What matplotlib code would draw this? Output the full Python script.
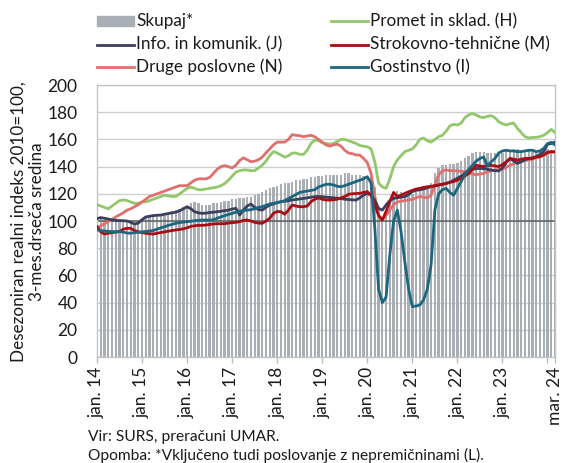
import matplotlib
matplotlib.use("Agg")
import matplotlib.pyplot as plt
from matplotlib.lines import Line2D
from matplotlib.patches import Rectangle
import numpy as np

plt.rcParams["font.family"] = ["Lato", "DejaVu Sans"]

# mesečni podatki jan. 2014 - mar. 2024 (3-mes. drseča sredina)
skupaj = [
    102, 102, 101, 101, 101, 100, 100, 100, 99, 99, 98, 99,
    101, 102, 103, 104, 105, 105, 106, 106, 107, 108, 109, 110,
    111, 113, 114, 113, 112, 112, 112, 113, 113, 114, 115, 115,
    116, 116, 117, 117, 118, 118, 119, 120, 121, 123, 124, 125,
    126, 127, 128, 128, 129, 130, 130, 131, 131, 132, 132, 133,
    133, 134, 134, 134, 134, 134, 135, 135, 134, 134, 134, 133,
    133, 132, 125, 108, 102, 108, 116, 121, 122, 121, 120, 120,
    120, 121, 122, 123, 125, 128, 135, 139, 141, 141, 142, 142,
    143, 144, 146, 148, 150, 151, 151, 151, 150, 150, 150, 149,
    150, 151, 152, 153, 153, 152, 152, 152, 151, 151, 152, 152,
    153, 152, 152,
]
promet = [
    112, 111, 110, 109, 111, 113, 115, 115.5, 115, 114, 113, 113,
    114, 114, 115, 116, 117, 118, 119, 118.5, 118, 118, 120, 122,
    124, 125, 124, 123, 123, 123.5, 124, 124.5, 125, 126, 127.5, 130,
    133, 136, 137, 137.5, 137.5, 137, 137, 139, 141, 144, 148, 151,
    150, 148.5, 147, 148, 150, 150, 149, 149, 152, 157, 159.5, 159,
    157.5, 157, 156.6, 157, 158.5, 160, 160, 159, 158, 157, 155.5, 155,
    154.6, 153, 143.6, 128, 125, 124, 131, 140, 145, 148, 151, 152,
    153, 156, 160, 161, 159, 158, 160, 162, 163, 166, 170, 171,
    170.6, 172, 176, 178, 179, 178, 176.5, 176, 177, 177.5, 176, 173,
    171.5, 170.6, 171.5, 172, 168, 165, 162, 161, 161.5, 161.5, 162, 163,
    165, 167.4, 165,
]
info = [
    101.7, 102.5, 102, 101.5, 100.8, 100.5, 100.3, 100.2, 100, 99, 97.8, 98.5,
    101, 103, 103.5, 104, 104.2, 104.4, 105, 105.5, 106, 106.5, 107.5, 109,
    110.5, 109, 106.8, 106, 105.6, 105.8, 106.2, 106.5, 106.8, 107.2, 107.6, 108,
    108.8, 109.3, 104.4, 108, 111, 112.5, 110, 108.5, 108, 110, 111.8, 112.5,
    113.5, 114.2, 114.5, 115, 115.4, 115.8, 116.2, 116.6, 117, 117.5, 117.9, 118,
    117.9, 117.5, 117.3, 117, 116.8, 116.5, 116, 115.8, 115.6, 115.4, 117, 119,
    120.3, 119, 115.4, 109.3, 108, 111.8, 115, 116.7, 117, 117.5, 117.9, 119.5,
    121.6, 122.5, 123, 123.5, 124.5, 125.2, 125.8, 126.5, 127, 127.7, 128.5, 130,
    131.4, 133, 135, 137.5, 138, 138.5, 138.7, 138.5, 138, 137.5, 137, 136.8,
    139, 143, 146, 144, 142.4, 143.5, 145, 146, 146, 147.5, 149, 151,
    156.4, 157, 158,
]
strokovno = [
    95.8, 92, 90.4, 91, 91.4, 91.8, 92.2, 94, 94.6, 94.6, 93, 92,
    91.5, 91, 90.6, 90.4, 91, 91.5, 92, 92.5, 93, 93.4, 93.8, 94.2,
    95, 96, 96.5, 96.8, 96.8, 97, 97.5, 97.8, 98, 98, 98, 98.5,
    98.8, 99, 99.5, 100.5, 100.7, 100, 99, 98.5, 98.3, 100, 102, 105.6,
    107, 106.8, 105, 108, 111.8, 111, 110.5, 110.5, 111, 114.2, 116, 117,
    116, 115.4, 115.4, 115.6, 116, 117, 118, 119.6, 120, 120.2, 120.3, 121,
    121.6, 119, 112, 104, 100.7, 107, 114.2, 121, 118, 119, 120.3, 121.5,
    122.5, 123.5, 124, 124.7, 125.2, 125.5, 126, 126.5, 127, 127.5, 128.4, 129,
    130, 131.5, 133, 135, 138, 141, 140.5, 140, 140.5, 141, 140.5, 140,
    141.5, 143.5, 146, 145.5, 144.8, 145.5, 146, 146, 146.5, 147, 147.3, 148.5,
    150.5, 151, 151,
]
druge = [
    95, 96.5, 98, 99.5, 101, 103, 104.5, 106, 108, 109, 110.5, 112,
    114, 116, 118, 119, 120, 121, 122, 123, 124, 125, 126, 126,
    126, 128, 130, 131, 131, 131, 132, 135, 138, 140, 140.7, 140,
    139, 141, 144.5, 146.5, 145, 143.6, 144, 145, 147, 150, 153, 156,
    158, 158, 158, 160, 163.5, 163, 162.7, 162, 162.5, 163, 162, 160,
    158, 156, 155, 156, 156.5, 155, 152, 150, 149.5, 148.5, 148.5, 146,
    143, 135, 118, 104, 101, 104, 108, 112, 114, 114.5, 115, 115.4,
    116, 117, 118, 117.5, 117, 119, 126.5, 134, 137, 137.5, 137, 137,
    136.8, 136.5, 136.3, 135.5, 134.5, 134, 134.5, 135, 136, 137, 137.5, 138,
    138, 139.5, 141, 142, 143.6, 144, 144.5, 144.8, 145.5, 146.5, 147.3, 148.5,
    150, 150.5, 150.5,
]
gostinstvo = [
    93.4, 93, 92.6, 92.4, 92.2, 92.2, 92.2, 91.8, 91.2, 91, 91.5, 91.7,
    92, 92.3, 92.6, 93, 94, 95, 95.8, 96.8, 97.5, 98.3, 98.8, 99.2,
    99.5, 99.8, 100.2, 100.5, 100.7, 100.7, 100.7, 101, 102, 103, 103.9, 104.8,
    105.6, 106.5, 107.3, 107.6, 108, 108.3, 109, 110, 110.5, 111.5, 112.5, 113,
    113.5, 114.2, 115, 116.5, 117.9, 119.5, 121, 121.6, 122, 122.5, 123, 125,
    126, 127, 127, 126.5, 125.5, 125.2, 126, 127, 128, 129, 130, 131,
    132.6, 128, 95, 50, 40, 44, 75, 100, 108, 92, 70, 50,
    37, 37.5, 38.2, 42, 50, 68, 108, 120, 123, 124, 121, 119,
    124, 129, 134, 138, 141, 144, 146, 147, 140.5, 143.5, 146, 150,
    151.5, 152, 151.5, 151.5, 151, 151, 151.5, 152, 152, 151, 151.5, 153.4,
    157, 157.8, 156,
]

tick_pos = [0, 12, 24, 36, 48, 60, 72, 84, 96, 108, 120, 122]
tick_lab = ["jan. 14", "jan. 15", "jan. 16", "jan. 17", "jan. 18", "jan. 19",
            "jan. 20", "jan. 21", "jan. 22", "jan. 23", "", "mar. 24"]

C_BAR    = "#A9AEB4"
C_PROMET = "#92C76C"
C_INFO   = "#3B3F5E"
C_STROK  = "#A80D14"
C_DRUGE  = "#E0706E"
C_GOST   = "#1C6680"
C_GRID   = "#CFCFCF"
C_TXT    = "#1a1a1a"

W, H = 562, 463
fig = plt.figure(figsize=(W / 100, H / 100), dpi=100)
ax = fig.add_axes([97 / W, 1 - 357 / H, (555 - 97) / W, (357 - 85) / H])

x = np.arange(len(skupaj))
ax.bar(x, skupaj, width=0.62, color=C_BAR, zorder=1)
ax.axhline(100, color="#5e5e5e", lw=1.1, zorder=2)

lw = 2.0
ax.plot(x, promet, color=C_PROMET, lw=lw, zorder=3)
ax.plot(x, druge, color=C_DRUGE, lw=lw, zorder=3)
ax.plot(x, info, color=C_INFO, lw=lw, zorder=4)
ax.plot(x, strokovno, color=C_STROK, lw=lw, zorder=4)
ax.plot(x, gostinstvo, color=C_GOST, lw=lw, zorder=5)

ax.set_xlim(0, len(skupaj) - 1)
ax.set_ylim(0, 200)
ax.set_yticks(range(0, 201, 20))
ax.yaxis.grid(True, color=C_GRID, lw=1)
ax.set_axisbelow(True)
ax.tick_params(axis="y", length=0, pad=14, labelsize=12.5, labelcolor=C_TXT)
ax.set_xticks(tick_pos)
ax.set_xticklabels(tick_lab, rotation=90, fontsize=12.5, color=C_TXT)
ax.tick_params(axis="x", length=4, width=1, color="#bdbdbd", pad=3)
for s in ax.spines.values():
    s.set_color("#c4c4c4")
    s.set_linewidth(1)

fig.text(28 / W, 1 - 222 / H,
         "Desezoniran realni indeks 2010=100,\n3-mes.drseča sredina",
         rotation=90, ha="center", va="center", multialignment="center",
         fontsize=12.3, color=C_TXT, linespacing=1.2)

# legenda - ročno postavljena
def fx(px):
    return px / W

def fy(py):
    return 1 - py / H

entries = [
    (97, 21, "bar", C_BAR, "Skupaj*"),
    (97, 44.5, "line", C_INFO, "Info. in komunik. (J)"),
    (97, 67, "line", C_DRUGE, "Druge poslovne (N)"),
    (331, 21, "line", C_PROMET, "Promet in sklad. (H)"),
    (331, 44.5, "line", C_STROK, "Strokovno-tehnične (M)"),
    (331, 67, "line", C_GOST, "Gostinstvo (I)"),
]
for px, py, kind, col, lab in entries:
    if kind == "bar":
        fig.add_artist(Rectangle((fx(px), fy(py + 5)), fx(37), 10 / H,
                                 color=col, transform=fig.transFigure))
    else:
        fig.add_artist(Line2D([fx(px), fx(px + 37)], [fy(py), fy(py)],
                              color=col, lw=2, transform=fig.transFigure))
    fig.text(fx(px + 39), fy(py), lab, ha="left", va="center",
             fontsize=12.3, color=C_TXT)

fig.text(88 / W, 1 - 437 / H, "Vir: SURS, preračuni UMAR.",
         ha="left", va="center", fontsize=11.2, color=C_TXT)
fig.text(88 / W, 1 - 455 / H,
         "Opomba: *Vključeno tudi poslovanje z nepremičninami (L).",
         ha="left", va="center", fontsize=11.2, color=C_TXT)

fig.savefig("out.png", dpi=100)
